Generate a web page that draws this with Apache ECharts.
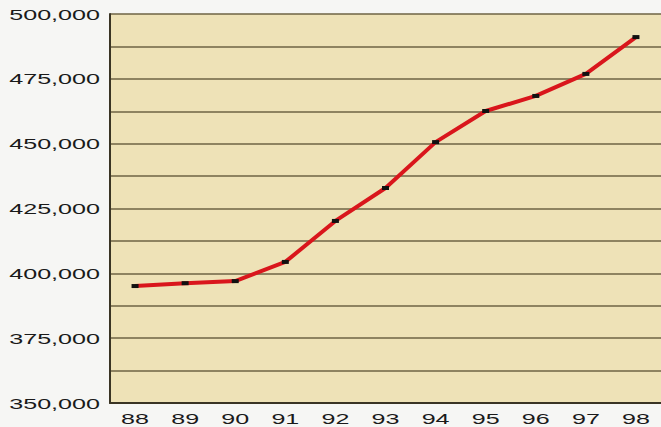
<!DOCTYPE html>
<html>
<head>
<meta charset="utf-8">
<script src="https://cdn.jsdelivr.net/npm/echarts@6/dist/echarts.min.js"></script>
<style>
  html, body { margin: 0; padding: 0; background: #f6f6f4; }
  #chart { width: 661px; height: 427px; }
</style>
</head>
<body>
<div id="chart"></div>
<script>
// data
var years = ["88", "89", "90", "91", "92", "93", "94", "95", "96", "97", "98"];
var values = [395100, 396200, 397000, 404400, 420200, 432900, 450600, 462600, 468400, 476900, 491100];
var yMin = 350000;
var yMax = 500000;
var yStep = 25000;

function withCommas(v) {
  return String(v).replace(/\B(?=(\d{3})+(?!\d))/g, ",");
}

var chart = echarts.init(document.getElementById("chart"), null, { renderer: "svg" });
chart.setOption({
  backgroundColor: "#f6f6f4",
  animation: false,
  grid: {
    left: 110,
    right: 0,
    top: 14,
    bottom: 24,
    show: true,
    backgroundColor: "#eee2b7",
    borderWidth: 0
  },
  xAxis: {
    type: "category",
    data: years,
    boundaryGap: true,
    axisLine: { lineStyle: { color: "#3a3424", width: 2 } },
    axisTick: { inside: true, length: 9, lineStyle: { color: "#3a3424", width: 2 } },
    axisLabel: {
      color: "#1a1a1a",
      fontFamily: "Liberation Sans, Arial, sans-serif",
      fontSize: 15.5,
      margin: 7
    }
  },
  yAxis: {
    type: "value",
    min: yMin,
    max: yMax,
    interval: yStep,
    axisLine: { show: true, lineStyle: { color: "#3a3424", width: 2 } },
    axisTick: { show: false },
    minorTick: { show: false, splitNumber: 2 },
    splitLine: { lineStyle: { color: "#6e6345", width: 1.5 } },
    minorSplitLine: { show: true, lineStyle: { color: "#6e6345", width: 1.5 } },
    axisLabel: {
      color: "#1a1a1a",
      fontFamily: "Liberation Sans, Arial, sans-serif",
      fontSize: 15.5,
      margin: 10,
      formatter: withCommas
    }
  },
  series: [
    {
      type: "line",
      data: values,
      symbol: "rect",
      symbolSize: [7, 4],
      itemStyle: { color: "#111" },
      lineStyle: { color: "#d9161c", width: 4 },
      z: 3
    }
  ]
});

// the printed labels use a wide (extended) typeface: stretch the svg text to match
function widenLabels() {
  var texts = document.querySelectorAll("#chart svg text");
  texts.forEach(function (t) {
    if (t.getAttribute("data-wide")) return;
    var w = t.getComputedTextLength();
    if (!w) return;
    t.setAttribute("textLength", (w * 1.62).toFixed(1));
    t.setAttribute("lengthAdjust", "spacingAndGlyphs");
    t.setAttribute("data-wide", "1");
  });
}
widenLabels();
chart.on("finished", widenLabels);
</script>
</body>
</html>
